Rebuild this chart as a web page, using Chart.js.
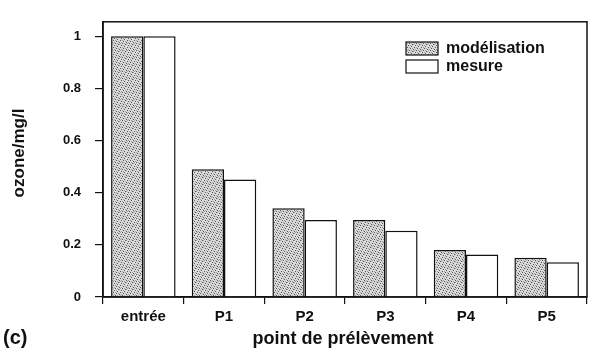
<!DOCTYPE html>
<html lang="fr">
<head>
  <meta charset="UTF-8">
  <title>ozone - point de prélèvement</title>
  <script src="https://cdn.jsdelivr.net/npm/chart.js"></script>
  <style>
    html, body { margin: 0; padding: 0; background: #fff; }
    #wrap { width: 593px; height: 352px; position: relative; }
  </style>
</head>
<body>
  <div id="wrap"><canvas id="chart" width="593" height="352"></canvas></div>
  <script>
    // data
    const points = ['entrée', 'P1', 'P2', 'P3', 'P4', 'P5'];
    const modelisation = [1.0, 0.49, 0.34, 0.295, 0.18, 0.15];
    const mesure = [1.0, 0.45, 0.295, 0.254, 0.163, 0.133];
    const yTicks = [0, 0.2, 0.4, 0.6, 0.8, 1];

    const FONT = '"Liberation Sans", Arial, sans-serif';

    // stippled grey like the printed figure (hand placed dots, 7x7 tile)
    function stipple() {
      const c = document.createElement('canvas');
      c.width = 7; c.height = 7;
      const g = c.getContext('2d');
      g.fillStyle = '#dadada';
      g.fillRect(0, 0, 7, 7);
      const dark = [[0,0],[3,1],[6,2],[2,3],[5,4],[1,5],[4,6]];
      const mid = [[2,0],[5,1],[0,2],[3,5],[6,6],[1,1],[4,3]];
      g.fillStyle = '#555';
      dark.forEach(p => g.fillRect(p[0], p[1], 1, 1));
      g.fillStyle = '#a0a0a0';
      mid.forEach(p => g.fillRect(p[0], p[1], 1, 1));
      return g.createPattern(c, 'repeat');
    }

    // frame, inner legend and loose titles
    const extras = {
      id: 'extras',
      afterDraw(chart) {
        const ctx = chart.ctx;
        const a = chart.chartArea;
        ctx.save();
        ctx.strokeStyle = '#111';
        ctx.lineWidth = 1.5;
        ctx.strokeRect(a.left, a.top, a.right - a.left, a.bottom - a.top);

        // legend inside plot
        const ds = chart.data.datasets;
        ds.forEach((d, i) => {
          const y = 42 + i * 18;
          ctx.fillStyle = d.backgroundColor;
          ctx.fillRect(406, y, 32, 13);
          ctx.lineWidth = 1.2;
          ctx.strokeRect(406, y, 32, 13);
          ctx.fillStyle = '#111';
          ctx.font = 'bold 16px ' + FONT;
          ctx.textBaseline = 'middle';
          ctx.textAlign = 'left';
          ctx.fillText(d.label, 446, y + 7);
        });

        ctx.fillStyle = '#111';
        ctx.textBaseline = 'middle';
        ctx.textAlign = 'center';
        ctx.font = 'bold 18px ' + FONT;
        ctx.fillText('point de prélèvement', 343, 339);

        ctx.textAlign = 'left';
        ctx.font = 'bold 20px ' + FONT;
        ctx.fillText('(c)', 3, 338);

        ctx.translate(19, 153);
        ctx.rotate(-Math.PI / 2);
        ctx.textAlign = 'center';
        ctx.font = 'bold 17px ' + FONT;
        ctx.fillText('ozone/mg/l', 0, 0);
        ctx.restore();
      }
    };

    const fill = stipple();

    new Chart(document.getElementById('chart'), {
      type: 'bar',
      data: {
        labels: points,
        datasets: [
          { label: 'modélisation', data: modelisation, backgroundColor: fill,
            borderColor: '#111', borderWidth: 1.5, borderSkipped: 'bottom' },
          { label: 'mesure', data: mesure, backgroundColor: '#ffffff',
            borderColor: '#111', borderWidth: 1.5, borderSkipped: 'bottom' }
        ]
      },
      options: {
        responsive: false,
        animation: false,
        layout: { padding: { left: 0, right: 6, top: 14, bottom: 0 } },
        plugins: { legend: { display: false }, tooltip: { enabled: false } },
        datasets: { bar: { categoryPercentage: 0.8, barPercentage: 1.0 } },
        scales: {
          x: {
            offset: true,
            grid: { offset: true, drawOnChartArea: false, tickLength: 7, color: '#111', lineWidth: 1.2 },
            border: { color: '#111', width: 1.5 },
            ticks: { color: '#111', font: { family: FONT, size: 15, weight: 'bold' }, padding: 4 },
            afterFit(s) { s.height = 55; }
          },
          y: {
            min: 0,
            max: 1.055,
            grid: { drawOnChartArea: false, tickLength: 8, color: '#111', lineWidth: 1.2 },
            border: { color: '#111', width: 1.5 },
            afterBuildTicks(s) { s.ticks = yTicks.map(v => ({ value: v })); },
            ticks: {
              color: '#111',
              padding: 14,
              font: { family: FONT, size: 13, weight: 'bold' },
              callback: v => (v === 0 || v === 1) ? String(v) : v.toFixed(1)
            },
            afterFit(s) { s.width = 103; }
          }
        }
      },
      plugins: [extras]
    });
  </script>
</body>
</html>
